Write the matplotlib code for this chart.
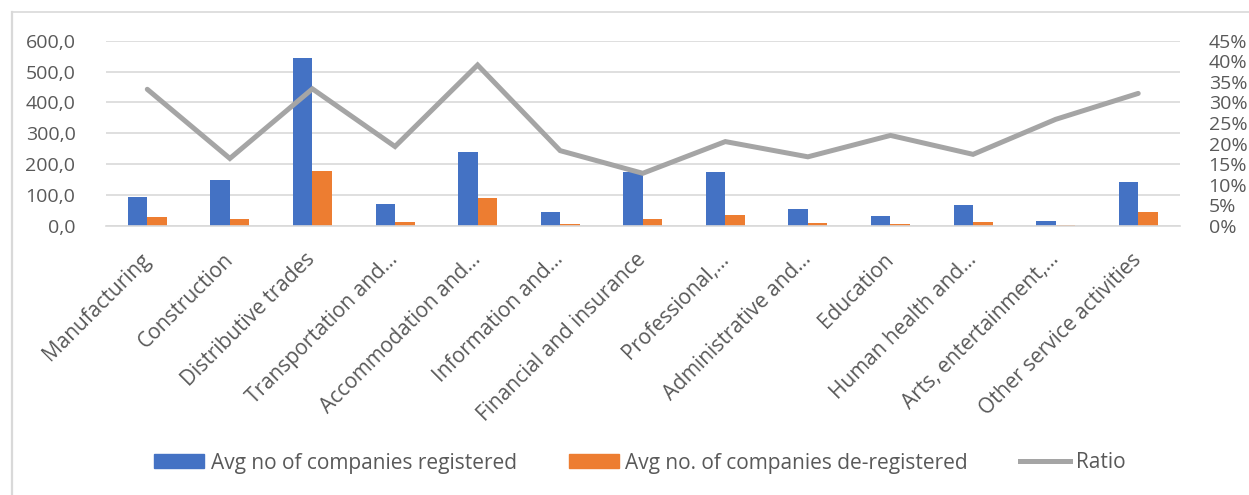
import matplotlib
matplotlib.use("Agg")
import matplotlib.pyplot as plt
import numpy as np
from matplotlib.lines import Line2D
from matplotlib.ticker import FuncFormatter, MultipleLocator

categories = ["Manufacturing", "Construction", "Distributive trades", "Transportation and...",
              "Accommodation and...", "Information and...", "Financial and insurance",
              "Professional,...", "Administrative and...", "Education", "Human health and...",
              "Arts, entertainment,...", "Other service activities"]
registered = [95, 148, 543, 71, 238, 45, 176, 176, 55, 32, 69, 17, 143]
deregistered = [29, 22, 178, 12, 92, 8, 22, 36, 9, 6, 12, 4, 44]
ratio = [0.332, 0.164, 0.333, 0.193, 0.391, 0.183, 0.128, 0.205, 0.168, 0.220, 0.174, 0.259, 0.322]

series_names = ["Avg no of companies registered", "Avg no. of companies de-registered", "Ratio"]

BLUE = "#4472C4"
ORANGE = "#ED7D31"
GRAY = "#A5A5A5"
TXT = "#595959"
GRID = "#D9D9D9"

plt.rcParams['font.family'] = ['Open Sans', 'DejaVu Sans']
FS = 14
FSX = 15

fig = plt.figure(figsize=(12.49, 4.95), dpi=100)
W, H = 1249, 495
ax = fig.add_axes([106 / W, 1 - 226 / H, (1179.5 - 106) / W, (226 - 40.7) / H])

x = np.arange(len(categories))
bw = 0.236
ax.bar(x - bw / 2, registered, bw, color=BLUE, label=series_names[0], zorder=2)
ax.bar(x + bw / 2, deregistered, bw, color=ORANGE, label=series_names[1], zorder=2)
ax.set_xlim(-0.5, len(categories) - 0.5)
ax.set_ylim(0, 600)
ax.yaxis.set_major_locator(MultipleLocator(100))
ax.yaxis.set_major_formatter(FuncFormatter(lambda v, p: f"{v:.1f}".replace(".", ",")))
ax.grid(axis='y', color=GRID, linewidth=1.2, zorder=0)
ax.set_axisbelow(True)
for s in ["top", "right", "left"]:
    ax.spines[s].set_visible(False)
ax.spines["bottom"].set_color(GRID)
ax.spines["bottom"].set_linewidth(1.2)
ax.tick_params(axis='both', length=0, colors=TXT, labelsize=FS)
ax.tick_params(axis='y', pad=22)
ax.set_xticks(x)
ax.set_xticklabels(categories, rotation=45, ha='right', va='center', rotation_mode='anchor',
                   fontsize=FSX)
ax.tick_params(axis='x', pad=22)

ax2 = ax.twinx()
ax2.plot(x, ratio, color=GRAY, linewidth=3.6, label=series_names[2], zorder=3,
         solid_joinstyle='miter', solid_capstyle='round')
ax2.set_ylim(0, 0.45)
ax2.yaxis.set_major_locator(MultipleLocator(0.05))
ax2.yaxis.set_major_formatter(FuncFormatter(lambda v, p: f"{round(v * 100):d}%"))
for s in ["top", "right", "left", "bottom"]:
    ax2.spines[s].set_visible(False)
ax2.tick_params(axis='y', length=0, colors=TXT, labelsize=FS, pad=21)

handles = [plt.Rectangle((0, 0), 1, 1, color=BLUE), plt.Rectangle((0, 0), 1, 1, color=ORANGE),
           Line2D([0], [0], color=GRAY, linewidth=3.6)]
leg = fig.legend(handles, series_names, loc='center', bbox_to_anchor=(640 / W, 1 - 463 / H),
                 ncol=3, frameon=False, fontsize=FSX, handlelength=2.4, handleheight=0.65,
                 handletextpad=0.3, columnspacing=2.5)
for t in leg.get_texts():
    t.set_color(TXT)

# outer chart border
fig.add_artist(Line2D([12 / W, 12 / W], [0, 1 - 12 / H], color=GRID, linewidth=1.6))
fig.add_artist(Line2D([12 / W, 1], [1 - 12 / H, 1 - 12 / H], color=GRID, linewidth=1.2))

fig.savefig("out.png", dpi=100)
